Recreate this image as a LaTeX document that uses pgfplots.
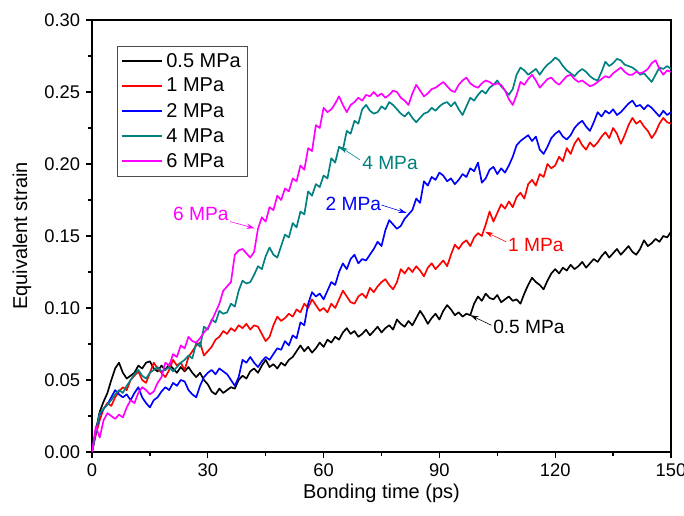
\documentclass[border=0pt]{standalone}
\usepackage{fontspec}
\setmainfont{Liberation Sans}
\usepackage{pgfplots}
\usepackage{pgfplotstable}
\pgfplotsset{compat=1.18}
\usetikzlibrary{arrows.meta}
\definecolor{cteal}{RGB}{0,128,128}
\definecolor{cmag}{RGB}{255,0,255}
\definecolor{cred}{RGB}{255,0,0}
\definecolor{cblue}{RGB}{0,0,255}

\pgfplotstableread{
t a b c d e
0 0.000 0.000 0.000 0.000 0.000
1 0.015 0.012 0.014 0.014 0.018
2 0.028 0.022 0.026 0.027 0.010
3 0.035 0.030 0.030 0.030 0.022
4 0.041 0.034 0.033 0.033 0.027
5 0.050 0.032 0.038 0.036 0.025
6 0.058 0.038 0.043 0.040 0.023
7 0.062 0.042 0.040 0.043 0.026
8 0.055 0.045 0.038 0.041 0.024
9 0.051 0.043 0.040 0.046 0.031
10 0.053 0.050 0.036 0.050 0.036
11 0.055 0.053 0.041 0.054 0.034
12 0.060 0.056 0.045 0.057 0.041
13 0.058 0.050 0.038 0.053 0.045
14 0.062 0.048 0.034 0.051 0.043
15 0.063 0.055 0.031 0.055 0.040
16 0.058 0.062 0.036 0.057 0.042
17 0.056 0.058 0.038 0.059 0.048
18 0.060 0.055 0.042 0.056 0.052
19 0.057 0.052 0.045 0.057 0.062
20 0.061 0.057 0.043 0.059 0.060
21 0.058 0.064 0.048 0.056 0.068
22 0.055 0.060 0.046 0.059 0.066
23 0.059 0.062 0.050 0.062 0.074
24 0.056 0.057 0.049 0.064 0.072
25 0.059 0.066 0.043 0.067 0.080
26 0.055 0.070 0.040 0.065 0.077
27 0.052 0.074 0.038 0.076 0.076
28 0.055 0.076 0.046 0.073 0.079
29 0.050 0.067 0.052 0.087 0.083
30 0.047 0.070 0.055 0.085 0.086
31 0.042 0.073 0.057 0.092 0.091
32 0.040 0.078 0.054 0.090 0.097
33 0.044 0.080 0.058 0.098 0.103
34 0.041 0.084 0.056 0.096 0.112
35 0.043 0.082 0.054 0.097 0.115
36 0.045 0.086 0.050 0.103 0.118
37 0.044 0.084 0.046 0.101 0.137
38 0.050 0.088 0.052 0.112 0.140
39 0.053 0.086 0.064 0.119 0.141
40 0.051 0.089 0.062 0.117 0.138
41 0.056 0.085 0.066 0.118 0.135
42 0.058 0.088 0.062 0.123 0.139
43 0.055 0.087 0.059 0.129 0.155
44 0.060 0.082 0.063 0.127 0.163
45 0.064 0.077 0.066 0.136 0.160
46 0.059 0.080 0.064 0.142 0.170
47 0.061 0.088 0.068 0.137 0.168
48 0.058 0.094 0.072 0.135 0.178
49 0.062 0.091 0.071 0.143 0.175
50 0.060 0.093 0.077 0.151 0.183
51 0.064 0.096 0.074 0.149 0.181
52 0.066 0.094 0.081 0.159 0.190
53 0.070 0.099 0.079 0.156 0.188
54 0.074 0.097 0.090 0.167 0.199
55 0.070 0.103 0.088 0.165 0.196
56 0.073 0.100 0.103 0.181 0.211
57 0.069 0.106 0.111 0.178 0.209
58 0.072 0.102 0.108 0.186 0.227
59 0.076 0.098 0.110 0.184 0.225
60 0.073 0.100 0.106 0.192 0.239
61 0.078 0.097 0.112 0.190 0.236
62 0.076 0.103 0.118 0.204 0.238
63 0.080 0.100 0.116 0.201 0.242
64 0.078 0.106 0.125 0.212 0.247
65 0.083 0.112 0.131 0.210 0.241
66 0.086 0.108 0.127 0.223 0.236
67 0.082 0.104 0.134 0.221 0.241
68 0.084 0.103 0.137 0.230 0.243
69 0.080 0.108 0.131 0.228 0.246
70 0.082 0.110 0.134 0.238 0.244
71 0.085 0.107 0.133 0.241 0.248
72 0.081 0.114 0.137 0.237 0.247
73 0.084 0.111 0.141 0.235 0.250
74 0.087 0.115 0.146 0.236 0.247
75 0.083 0.118 0.143 0.240 0.249
76 0.086 0.120 0.154 0.238 0.246
77 0.088 0.116 0.161 0.243 0.248
78 0.085 0.113 0.158 0.241 0.251
79 0.092 0.118 0.155 0.238 0.250
80 0.089 0.127 0.157 0.235 0.246
81 0.087 0.124 0.162 0.233 0.244
82 0.091 0.128 0.165 0.236 0.241
83 0.088 0.125 0.168 0.232 0.249
84 0.093 0.129 0.176 0.229 0.255
85 0.098 0.126 0.173 0.232 0.251
86 0.094 0.122 0.188 0.235 0.247
87 0.089 0.128 0.185 0.236 0.249
88 0.093 0.131 0.191 0.239 0.252
89 0.096 0.127 0.189 0.237 0.253
90 0.092 0.130 0.194 0.240 0.255
91 0.098 0.133 0.192 0.242 0.257
92 0.102 0.129 0.188 0.243 0.254
93 0.099 0.137 0.190 0.240 0.251
94 0.095 0.144 0.186 0.243 0.250
95 0.097 0.141 0.189 0.238 0.255
96 0.094 0.145 0.193 0.234 0.258
97 0.096 0.147 0.191 0.240 0.260
98 0.095 0.143 0.197 0.246 0.256
99 0.103 0.149 0.195 0.244 0.254
100 0.108 0.152 0.201 0.248 0.253
101 0.105 0.150 0.187 0.251 0.256
102 0.110 0.158 0.190 0.249 0.258
103 0.107 0.167 0.196 0.253 0.257
104 0.106 0.160 0.198 0.255 0.255
105 0.109 0.166 0.193 0.258 0.256
106 0.104 0.172 0.197 0.254 0.255
107 0.106 0.169 0.194 0.251 0.251
108 0.108 0.174 0.199 0.248 0.245
109 0.105 0.170 0.205 0.252 0.241
110 0.106 0.177 0.213 0.262 0.248
111 0.103 0.180 0.216 0.267 0.257
112 0.110 0.176 0.218 0.265 0.255
113 0.116 0.186 0.220 0.262 0.259
114 0.121 0.189 0.216 0.264 0.262
115 0.118 0.185 0.219 0.266 0.258
116 0.116 0.193 0.210 0.262 0.253
117 0.113 0.191 0.207 0.266 0.256
118 0.119 0.200 0.212 0.269 0.259
119 0.124 0.197 0.218 0.271 0.260
120 0.127 0.199 0.221 0.274 0.257
121 0.124 0.205 0.223 0.272 0.255
122 0.128 0.202 0.219 0.268 0.258
123 0.126 0.211 0.217 0.265 0.261
124 0.130 0.207 0.220 0.263 0.262
125 0.127 0.214 0.225 0.261 0.259
126 0.129 0.218 0.228 0.264 0.257
127 0.132 0.213 0.230 0.266 0.258
128 0.128 0.210 0.226 0.264 0.256
129 0.131 0.215 0.223 0.261 0.254
130 0.134 0.212 0.229 0.259 0.255
131 0.132 0.215 0.236 0.258 0.257
132 0.136 0.219 0.233 0.264 0.259
133 0.139 0.222 0.237 0.271 0.261
134 0.135 0.218 0.235 0.268 0.260
135 0.138 0.225 0.238 0.270 0.263
136 0.141 0.221 0.234 0.273 0.265
137 0.137 0.214 0.236 0.272 0.267
138 0.140 0.220 0.239 0.269 0.264
139 0.143 0.227 0.242 0.268 0.262
140 0.139 0.232 0.244 0.267 0.262
141 0.137 0.228 0.240 0.265 0.264
142 0.141 0.230 0.241 0.262 0.263
143 0.147 0.226 0.238 0.263 0.264
144 0.143 0.223 0.241 0.260 0.266
145 0.145 0.218 0.239 0.257 0.270
146 0.148 0.222 0.236 0.262 0.272
147 0.146 0.228 0.233 0.267 0.266
148 0.150 0.232 0.237 0.266 0.262
149 0.149 0.229 0.234 0.268 0.265
150 0.153 0.228 0.236 0.266 0.264
}\strain

\begin{document}
\begin{tikzpicture}
\begin{axis}[
  scale only axis,
  width=347.4pt, height=259.2pt,
  xmin=0, xmax=150, ymin=0, ymax=0.30,
  xtick={0,30,60,90,120,150},
  ytick={0,0.05,0.10,0.15,0.20,0.25,0.30},
  minor x tick num=1,
  minor y tick num=1,
  tick align=outside,
  xtick pos=left, ytick pos=left,
  major tick length=3.6pt,
  minor tick length=2.2pt,
  every tick/.style={black, line width=0.8pt},
  axis line style={line width=0.9pt},
  /pgf/number format/assume math mode=true,
  tick label style={font=\fontsize{11}{13}\selectfont},
  yticklabel style={/pgf/number format/.cd, fixed, fixed zerofill, precision=2},
  xticklabel style={/pgf/number format/.cd, fixed, precision=0},
  scaled y ticks=false,
  xlabel={Bonding time (ps)},
  ylabel={Equivalent strain},
  label style={font=\fontsize{12}{14}\selectfont},
  xlabel style={at={(axis description cs:0.5,-0.095)}, anchor=center},
  ylabel style={at={(axis description cs:-0.121,0.5)}, anchor=center},
  legend style={at={(axis description cs:0.043,0.94)}, anchor=north west,
    font=\fontsize{12}{14}\selectfont, draw=black!70, line width=0.6pt,
    inner xsep=2pt, inner ysep=2pt, row sep=1.2pt},
  legend cell align=left,
  legend image code/.code={\draw[#1, line width=1.2pt] (0cm,0cm) -- (0.85cm,0cm);},
  every axis plot/.append style={line width=1pt, line join=round},
]
\addplot[black] table[x=t, y=a] {\strain};
\addlegendentry{0.5 MPa}
\addplot[cred] table[x=t, y=b] {\strain};
\addlegendentry{1 MPa}
\addplot[cblue] table[x=t, y=c] {\strain};
\addlegendentry{2 MPa}
\addplot[cteal] table[x=t, y=d] {\strain};
\addlegendentry{4 MPa}
\addplot[cmag] table[x=t, y=e] {\strain};
\addlegendentry{6 MPa}

\node[font=\fontsize{11.5}{14}\selectfont, text=black] at (axis cs:113.2,0.0868) {0.5 MPa};
\draw[black, line width=0.35pt, -{Stealth[length=5pt,width=3pt]}] (axis cs:103.5,0.088) -- (axis cs:98,0.095);
\node[font=\fontsize{11.5}{14}\selectfont, text=cred] at (axis cs:115,0.1438) {1 MPa};
\draw[cred, line width=0.35pt, -{Stealth[length=5pt,width=3pt]}] (axis cs:107.3,0.146) -- (axis cs:101.8,0.153);
\node[font=\fontsize{11.5}{14}\selectfont, text=cblue] at (axis cs:67.7,0.1726) {2 MPa};
\draw[cblue, line width=0.35pt, -{Stealth[length=5pt,width=3pt]}] (axis cs:75,0.1715) -- (axis cs:81.5,0.166);
\node[font=\fontsize{11.5}{14}\selectfont, text=cteal] at (axis cs:77.2,0.2007) {4 MPa};
\draw[cteal, line width=0.35pt, -{Stealth[length=5pt,width=3pt]}] (axis cs:69.4,0.203) -- (axis cs:64.2,0.212);
\node[font=\fontsize{11.5}{14}\selectfont, text=cmag] at (axis cs:28.2,0.1656) {6 MPa};
\draw[cmag, line width=0.35pt, -{Stealth[length=5pt,width=3pt]}] (axis cs:35.8,0.160) -- (axis cs:42.2,0.1553);
\end{axis}
\pgfresetboundingbox
\path ([shift={(-55.2pt,-37.8pt)}]current axis.south west) rectangle ([shift={(7.8pt,12pt)}]current axis.north east);
\end{tikzpicture}
\end{document}
